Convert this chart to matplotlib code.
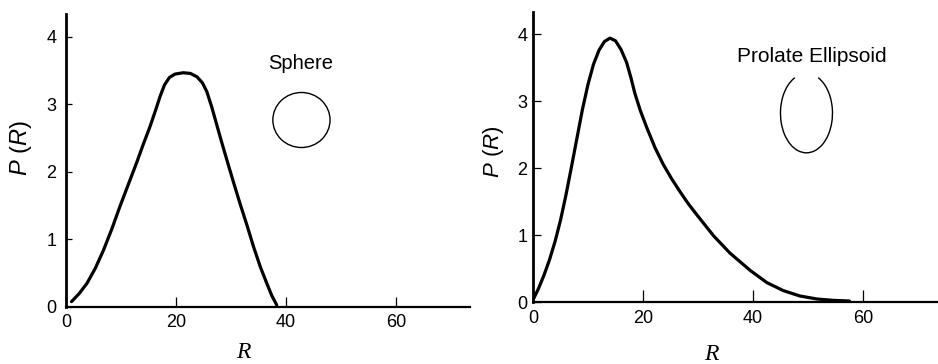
import numpy as np
import matplotlib
matplotlib.use('Agg')
import matplotlib.pyplot as plt
from matplotlib.patches import Ellipse, Arc

plt.rcParams['font.family'] = ['Liberation Sans', 'DejaVu Sans']
plt.rcParams['mathtext.fontset'] = 'custom'
plt.rcParams['mathtext.rm'] = 'Liberation Sans'
plt.rcParams['mathtext.it'] = 'Liberation Sans:italic'

# sphere P(R)
r_sphere = [1.0, 2.4, 3.8, 5.3, 6.8, 8.3, 9.8, 11.3, 12.8, 14.0, 15.3, 16.3,
            17.1, 17.9, 18.8, 19.8, 21.3, 22.6, 23.8, 24.8, 25.6, 26.5, 27.4,
            28.3, 29.2, 30.4, 31.6, 32.9, 34.1, 35.3, 36.5, 37.4, 38.3]
p_sphere = [0.08, 0.20, 0.35, 0.57, 0.84, 1.15, 1.49, 1.81, 2.13, 2.40, 2.68,
            2.92, 3.12, 3.29, 3.40, 3.45, 3.47, 3.46, 3.41, 3.32, 3.19, 2.96,
            2.70, 2.44, 2.19, 1.86, 1.54, 1.21, 0.89, 0.60, 0.35, 0.17, 0.03]

# prolate ellipsoid P(R)
r_prolate = [0, 1, 2, 3, 4, 5, 6, 7, 8, 9, 10, 11, 12, 13, 14, 15, 16, 17,
             17.8, 18.5, 19.5, 20.7, 22.2, 23.7, 25.2, 26.7, 28.2, 29.8, 32.8,
             35.8, 39.5, 42.5, 45.5, 48.5, 51.6, 54.5, 57.5]
p_prolate = [0.03, 0.20, 0.40, 0.63, 0.90, 1.22, 1.60, 2.02, 2.45, 2.88, 3.25,
             3.55, 3.76, 3.89, 3.94, 3.90, 3.77, 3.58, 3.35, 3.12, 2.86, 2.60,
             2.30, 2.05, 1.84, 1.65, 1.47, 1.30, 0.99, 0.73, 0.47, 0.29, 0.17,
             0.09, 0.045, 0.025, 0.015]

x_ticks = [0, 20, 40, 60]
y_ticks = [0, 1, 2, 3, 4]

# shape sketches: centre and size in data units
sphere_xy, sphere_w, sphere_h = (42.8, 2.77), 10.4, 0.815
prolate_xy, prolate_w, prolate_h = (49.7, 2.82), 9.45, 1.185

fig = plt.figure(figsize=(9.38, 3.64), dpi=100)
ax1 = fig.add_axes([0.0704, 0.1566, 0.4307, 0.8049])
ax2 = fig.add_axes([0.5682, 0.1703, 0.4318, 0.7967])

for ax in (ax1, ax2):
    for s in ('top', 'right'):
        ax.spines[s].set_visible(False)
    ax.spines['left'].set_linewidth(2.0)
    ax.spines['bottom'].set_linewidth(1.6)
    ax.set_xticks(x_ticks)
    ax.set_yticks(y_ticks)
    ax.tick_params(direction='in', labelsize=13, width=0.9)

ax1.plot(r_sphere, p_sphere, color='black', lw=2.3, solid_capstyle='round')
ax1.set_xlim(0, 73.45)
ax1.set_ylim(0, 4.34)
ax1.tick_params(axis='x', length=7, pad=5)
ax1.tick_params(axis='y', length=4, pad=7)
ax1.add_patch(Ellipse(sphere_xy, sphere_w, sphere_h, fill=False,
                      ec='black', lw=1.0))
ax1.text(42.6, 3.61, 'Sphere', fontsize=14.5, ha='center', va='center')

ax2.plot(r_prolate, p_prolate, color='black', lw=2.3, solid_capstyle='round')
ax2.set_xlim(0, 73.6)
ax2.set_ylim(0, 4.33)
ax2.tick_params(axis='x', length=8.5, pad=6)
ax2.tick_params(axis='y', length=6, pad=4)
ax2.add_patch(Arc(prolate_xy, prolate_w, prolate_h, theta1=166, theta2=14,
                  ec='black', lw=1.0))
ax2.text(50.6, 3.66, 'Prolate Ellipsoid', fontsize=15, ha='center',
         va='center')

for ax, y in ((ax1, -0.118), (ax2, -0.145)):
    ax.set_xlabel('R', family='Liberation Serif', style='italic', fontsize=17)
    ax.xaxis.set_label_coords(0.44, y)

fig.text(21 / 938, 1 - 148 / 364, r'$P\ (R)$', rotation=90, fontsize=17,
         ha='center', va='center')
fig.text(494 / 938, 1 - 152 / 364, r'$P\ (R)$', rotation=90, fontsize=16,
         ha='center', va='center')

fig.savefig('out.png', dpi=100)
